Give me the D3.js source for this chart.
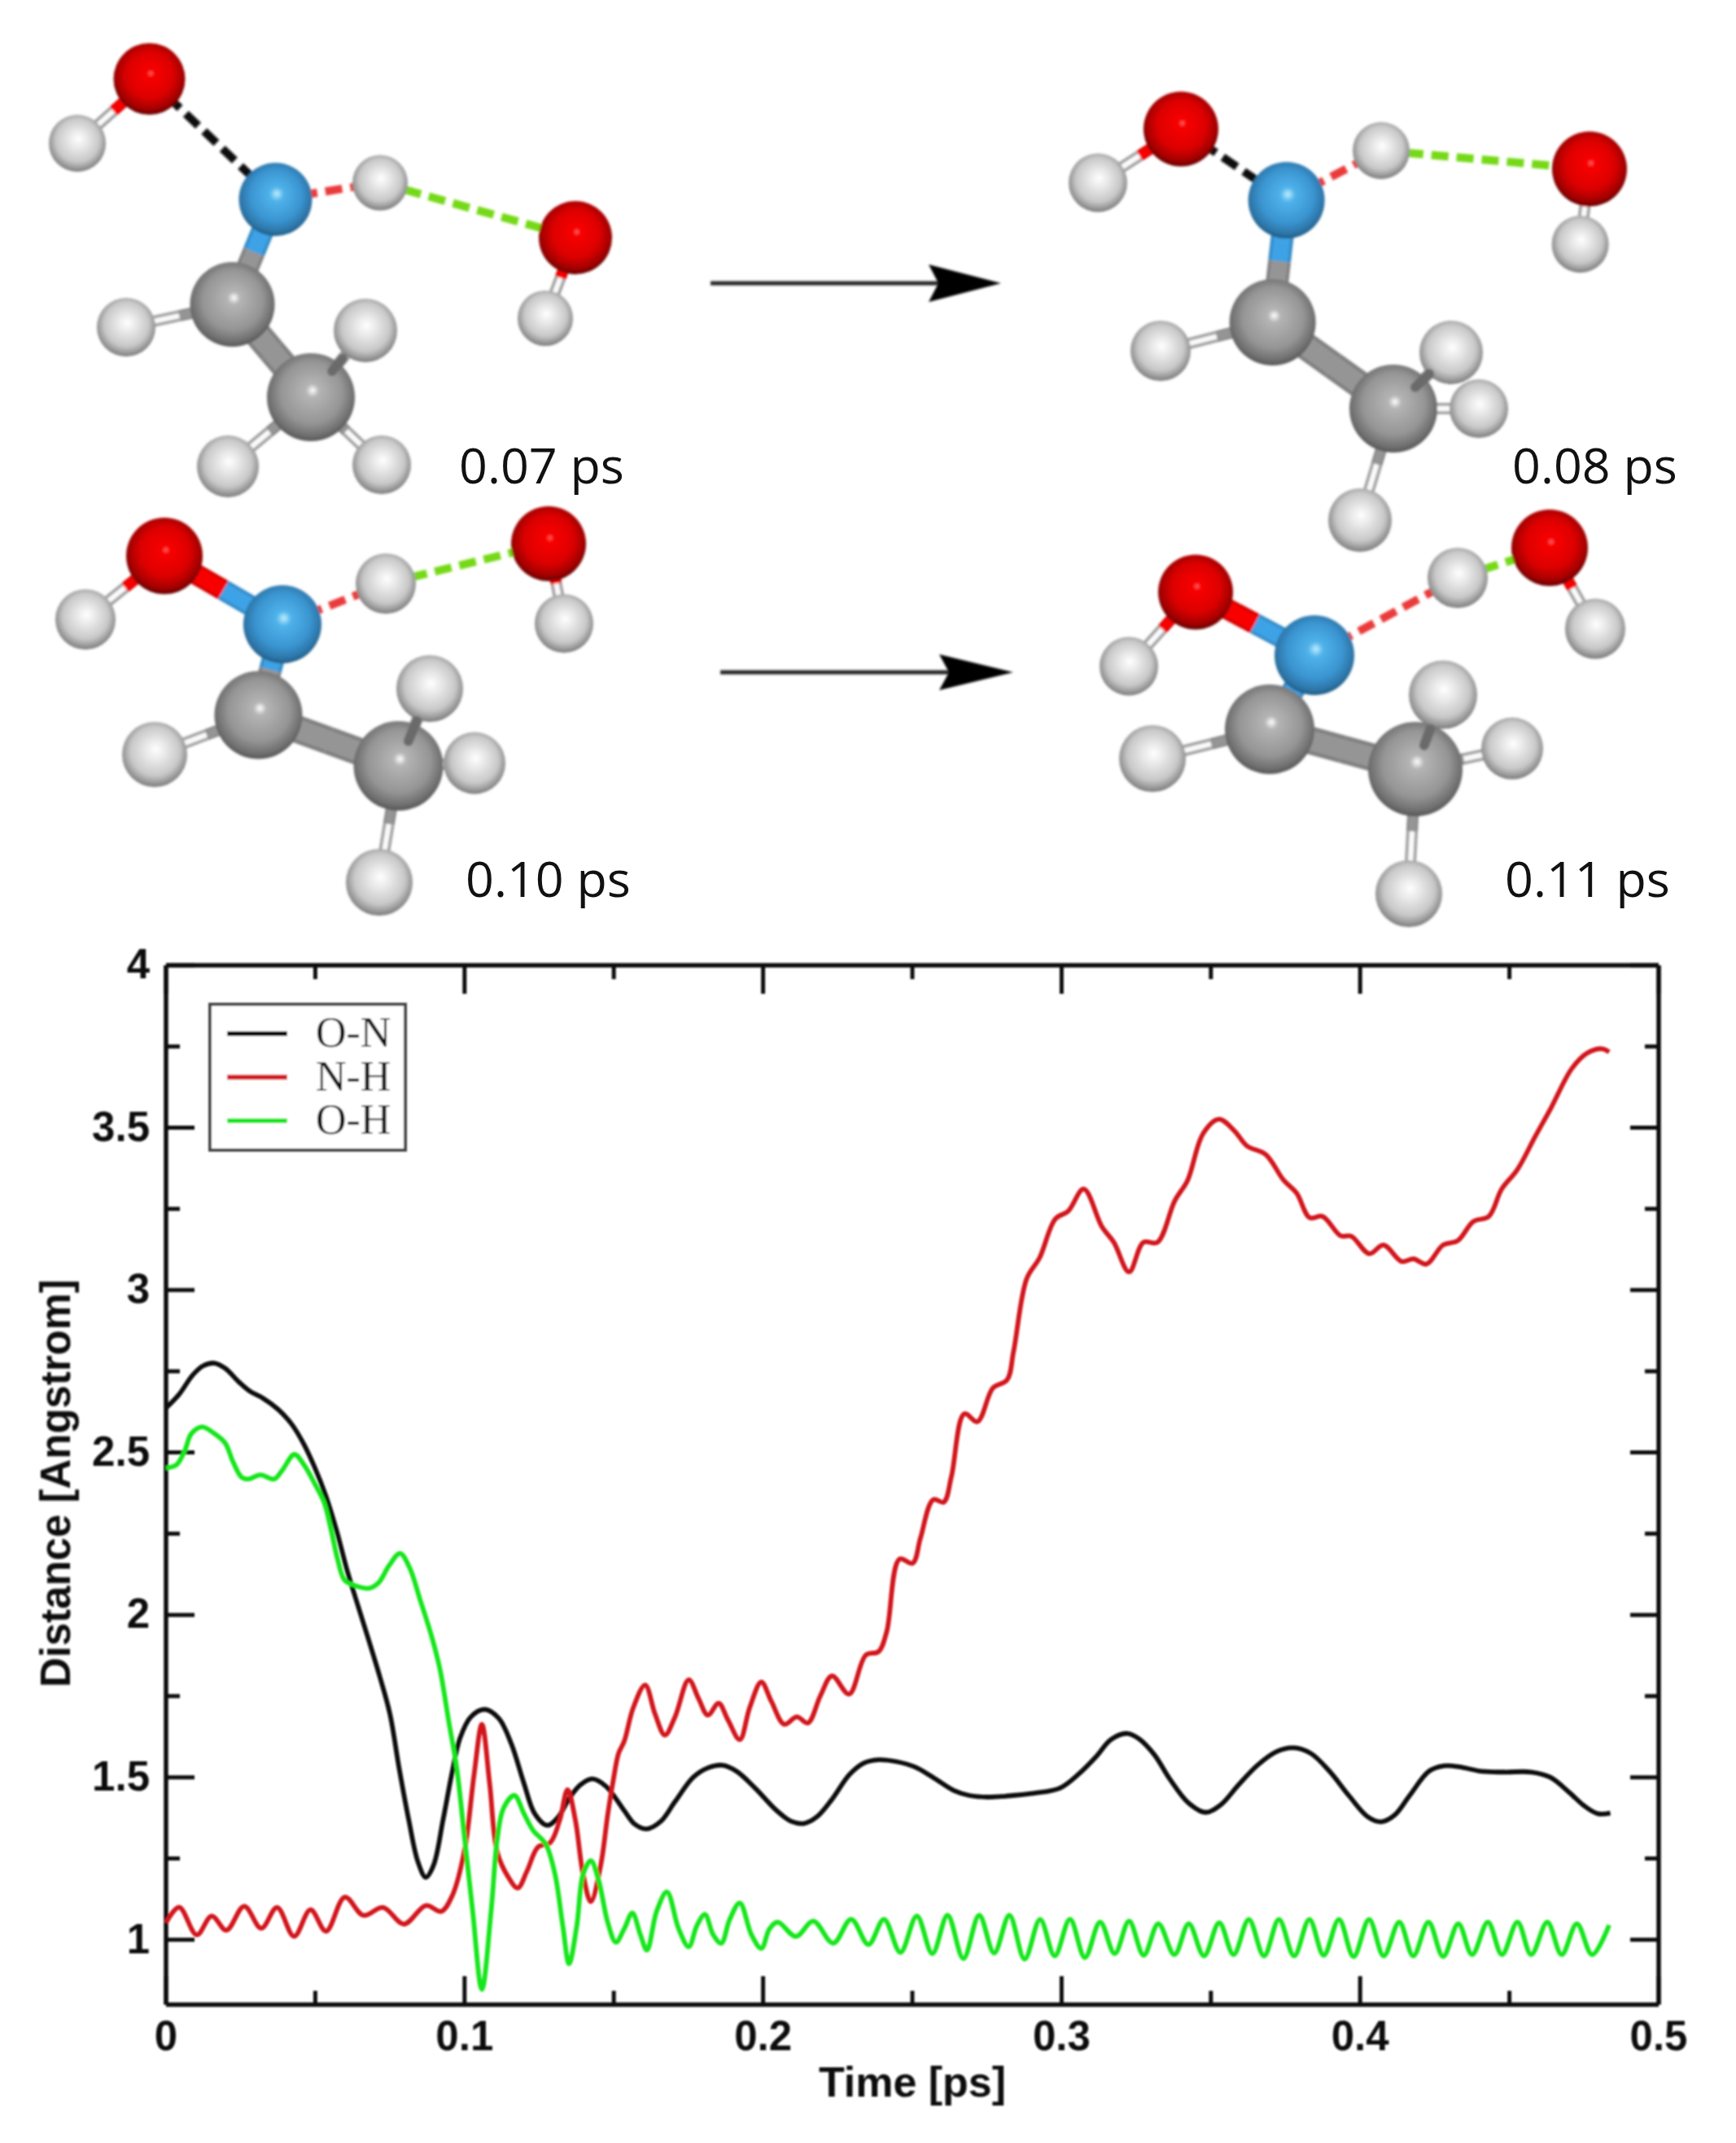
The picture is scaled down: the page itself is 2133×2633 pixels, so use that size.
<!DOCTYPE html>
<html>
<head>
<meta charset="utf-8">
<script src="https://cdnjs.cloudflare.com/ajax/libs/d3/7.8.5/d3.min.js"></script>
<style>
html,body{margin:0;padding:0;background:#fff}
svg{display:block}
</style>
</head>
<body>
<svg id="c" width="2133" height="2633" viewBox="0 0 2133 2633"></svg>
<script>
/* ---------- chart data ---------- */
const xMajor = [0, 0.1, 0.2, 0.3, 0.4, 0.5];
const xMinor = [0.05, 0.15, 0.25, 0.35, 0.45];
const yMajor = [1, 1.5, 2, 2.5, 3, 3.5, 4];
const yMinor = [1.25, 1.75, 2.25, 2.75, 3.25, 3.75];
const legendLabels = ["O-N", "N-H", "O-H"];
const xTitle = "Time [ps]";
const yTitle = "Distance [Angstrom]";

const timeON = [0,.0044,.0089,.0125,.0162,.0198,.0244,.028,.0325,.0375,.0421,.0462,.0498,.0534,.0571,.0607,.0643,.068,.0716,.075,.0781,.0813,.0844,.087,.0896,.0928,.0959,.0985,.1021,.1068,.1115,.1157,.1199,.1235,.1277,.1314,.135,.1387,.1428,.1474,.1535,.1571,.161,.1657,.1705,.1766,.1815,.1864,.1912,.1973,.2046,.2095,.2138,.218,.2229,.229,.2338,.2387,.2448,.2508,.2569,.2642,.2691,.2752,.2813,.291,.2995,.3056,.3117,.3165,.322,.326,.3311,.3362,.3426,.3483,.3534,.3592,.3656,.372,.3776,.3834,.3898,.3962,.4026,.4071,.4115,.4166,.423,.4281,.4332,.4409,.4484,.4573,.4637,.4701,.4752,.4796,.4838];
const distON = [2.637,2.679,2.738,2.767,2.775,2.759,2.717,2.689,2.667,2.633,2.587,2.525,2.454,2.37,2.261,2.136,2.028,1.919,1.81,1.695,1.527,1.369,1.239,1.192,1.229,1.369,1.518,1.621,1.686,1.709,1.681,1.602,1.481,1.388,1.352,1.378,1.434,1.476,1.495,1.472,1.397,1.355,1.341,1.364,1.425,1.5,1.529,1.537,1.518,1.467,1.397,1.364,1.358,1.378,1.43,1.509,1.544,1.554,1.548,1.532,1.5,1.458,1.444,1.439,1.442,1.451,1.467,1.509,1.565,1.616,1.635,1.618,1.569,1.495,1.42,1.392,1.416,1.476,1.537,1.579,1.591,1.574,1.518,1.444,1.378,1.363,1.383,1.444,1.518,1.535,1.532,1.518,1.516,1.516,1.5,1.453,1.411,1.388,1.39];

const timeNH = [0,.0044,.0103,.0153,.0202,.0262,.0319,.0372,.0429,.0484,.0536,.0599,.0661,.0727,.0797,.087,.0922,.0959,.1,.1032,.1058,.1084,.111,.1147,.1178,.1209,.1246,.1287,.1319,.1345,.1371,.1397,.1423,.1456,.148,.1498,.1516,.1535,.1565,.1605,.1638,.1671,.1705,.1751,.1784,.1815,.1851,.1882,.1922,.1955,.1994,.2028,.2071,.2113,.215,.2192,.2231,.2288,.2344,.2387,.2414,.2457,.2501,.2527,.257,.2605,.2631,.2674,.2718,.277,.2817,.2839,.2883,.2926,.2979,.3022,.3074,.3135,.3175,.3226,.3274,.3321,.3379,.3422,.3474,.3527,.3579,.3622,.3683,.3744,.3787,.3831,.3874,.3935,.397,.4031,.4078,.4139,.4179,.4222,.4278,.4327,.4379,.4431,.4474,.4526,.4587,.464,.4709,.4761,.481,.4834];
const distNH = [1.052,1.10,1.015,1.073,1.029,1.103,1.035,1.099,1.01,1.092,1.026,1.131,1.075,1.099,1.048,1.105,1.087,1.136,1.276,1.509,1.663,1.481,1.267,1.192,1.159,1.211,1.285,1.299,1.369,1.462,1.369,1.201,1.117,1.229,1.388,1.49,1.574,1.611,1.714,1.784,1.695,1.63,1.686,1.80,1.742,1.691,1.728,1.677,1.616,1.714,1.793,1.733,1.663,1.686,1.667,1.751,1.812,1.756,1.876,1.887,1.948,2.172,2.159,2.236,2.355,2.347,2.427,2.619,2.595,2.699,2.723,2.811,3.035,3.099,3.219,3.243,3.311,3.195,3.147,3.056,3.147,3.147,3.275,3.338,3.482,3.526,3.49,3.443,3.418,3.338,3.299,3.223,3.227,3.167,3.166,3.112,3.139,3.088,3.096,3.08,3.139,3.152,3.211,3.227,3.311,3.37,3.474,3.562,3.682,3.73,3.743,3.733];

const timeOH = [0,.0035,.0062,.0085,.0121,.0162,.0198,.0225,.0253,.0275,.0316,.0362,.0389,.043,.0462,.0498,.053,.0553,.0575,.0598,.0634,.068,.0712,.0748,.0784,.0816,.0852,.0889,.0917,.0948,.0974,.1,.1027,.1058,.1089,.111,.1131,.1167,.1199,.123,.1272,.1303,.1329,.135,.1376,.1397,.1423,.1449,.148,.1507,.1535,.1562,.1589,.1611,.1644,.1678,.1717,.1751,.1778,.1805,.1833,.186,.1888,.1922,.1961,.1994,.2022,.2049,.211,.2168,.2235,.2295,.2353,.2405,.246,.2515,.2567,.2618,.2671,.2724,.2774,.2825,.2876,.2928,.2977,.3028,.3078,.3129,.3178,.3226,.3275,.3324,.3378,.3426,.3477,.3528,.3576,.3627,.3678,.3728,.3779,.383,.3878,.3929,.3978,.403,.4079,.4131,.4178,.4229,.4278,.4329,.4375,.4428,.4475,.4527,.4573,.4627,.4675,.4726,.4777,.4834];
const distOH = [2.452,2.462,2.504,2.558,2.579,2.558,2.529,2.47,2.424,2.418,2.431,2.418,2.445,2.494,2.462,2.404,2.345,2.261,2.17,2.107,2.09,2.082,2.099,2.153,2.189,2.145,2.044,1.936,1.835,1.667,1.527,1.313,1.089,.847,1.089,1.313,1.406,1.444,1.388,1.336,1.294,1.201,1.043,.926,1.043,1.201,1.243,1.183,1.052,.992,1.034,1.082,1.015,.968,1.089,1.147,1.034,.978,1.043,1.078,1.015,.989,1.062,1.113,1.015,.973,1.034,1.054,1.01,1.057,.989,1.063,.985,1.063,.961,1.073,.957,1.075,.942,1.075,.959,1.075,.94,1.062,.95,1.063,.945,1.054,.957,1.057,.952,1.049,.954,1.049,.95,1.052,.954,1.062,.95,1.062,.95,1.062,.952,1.062,.948,1.062,.95,1.054,.95,1.054,.948,1.049,.954,1.054,.954,1.054,.954,1.054,.954,1.049,.954,1.045];

/* ---------- molecule snapshots (schematic, in picture units) ---------- */
/* atom slots: 0 O, 1 H, 2 N, 3 H(bridge), 4 O, 5 H, 6 C, 7 H, 8 C, 9 H, 10 H, 11 H */
const elements = ["O","H","N","H","O","H","C","H","C","H","H","H"];
const frames = [
  {label:"0.07 ps", lx:564, ly:594, solidON:false, stub:[.39,.58],
   a:[[183.5,97,44],[95,176,35],[338.5,245,45],[467,224.5,34],[707,292,45],[670,391,34],[285.5,374,52],[155,402,36],[382,488,54],[449,406,39],[469,571,36],[280,573,38]]},
  {label:"0.08 ps", lx:1858, ly:594, solidON:false, stub:[.38,.62],
   a:[[1451,158.5,46],[1349,224.5,36],[1580.6,246,47],[1697,185,35],[1953,207.6,46],[1941.6,300,35],[1563.6,396,53],[1426,431,37],[1712,502,54],[1783,433,39],[1817,502,36],[1671,639,39]]},
  {label:"0.10 ps", lx:572, ly:1102, solidON:true, stub:[.32,.58],
   a:[[202,683,47],[105,761,37],[347,767,48],[474,717,37],[674,668,46],[693,766,36],[317.5,878.6,54],[190,927,40],[489.5,941,55],[528,846,41],[583,937.5,38],[466,1084,41]]},
  {label:"0.11 ps", lx:1849, ly:1102, solidON:true, stub:[.32,.54],
   a:[[1469,727.5,46],[1387,818.6,36],[1615,805,49],[1791,710,37],[1904,673,47],[1960,772.5,37],[1560,896,55],[1416,932,41],[1739,945,58],[1773,853.6,42],[1858,919.6,38],[1731,1098,41]]}
];
const solidBonds = [[0,1,14],[4,5,14],[2,6,28],[6,8,34],[6,7,14],[8,9,14],[8,10,14],[8,11,14]];
const bondColor = {O:"#ee0000",N:"#3a9bdc",C:"#8f8f8f",H:"#dcdcdc"};
const arrows = [{x0:873,x1:1230,y:348,base:1141,notch:1153,h:23},{x0:885,x1:1245,y:826,base:1154,notch:1166,h:22}];

/* ---------- set-up ---------- */
const svg = d3.select("#c");
svg.append("rect").attr("width",2133).attr("height",2633).attr("fill","#fff");
const defs = svg.append("defs");

function blur(id,s){
  defs.append("filter").attr("id",id).attr("filterUnits","userSpaceOnUse")
    .attr("x",0).attr("y",0).attr("width",2133).attr("height",2633)
    .append("feGaussianBlur").attr("stdDeviation",s);
}
blur("softA",1.4); blur("softB",1.0);

const gradients = {
  O:[["0","#ff6a6a"],[".1","#f80000"],[".6","#dc0000"],[".88","#a00000"],["1","#600000"]],
  N:[["0","#bdeeff"],[".18","#4fb2ea"],[".65","#3a94d0"],[".9","#2c74a6"],["1","#1e587f"]],
  C:[["0","#ffffff"],[".14","#b4b4b4"],[".65","#959595"],[".9","#6e6e6e"],["1","#545454"]],
  H:[["0","#ffffff"],[".32","#e6e6e6"],[".7","#c8c8c8"],[".92","#929292"],["1","#727272"]]
};
Object.entries(gradients).forEach(([k,st])=>{
  const g = defs.append("radialGradient").attr("id","g"+k)
    .attr("cx",.5).attr("cy",.46).attr("r",.54).attr("fx",.52).attr("fy",.42);
  st.forEach(s=>g.append("stop").attr("offset",s[0]).attr("stop-color",s[1]));
});

/* ---------- molecules ---------- */
const mol = svg.append("g").attr("filter","url(#softA)");
const drawOrder = [1,5,7,10,11,0,2,3,4,6,8,9];
const lerp = (p,q,f)=>[p[0]+(q[0]-p[0])*f,p[1]+(q[1]-p[1])*f];

function seg(g,p,q,c,w,cap){
  g.append("line").attr("x1",p[0]).attr("y1",p[1]).attr("x2",q[0]).attr("y2",q[1])
   .attr("stroke",c).attr("stroke-width",w).attr("stroke-linecap",cap||"butt");
}
function halfBond(g,i,j,w,f){
  const p=f.a[i],q=f.a[j],m=lerp(p,q,.5);
  const parts=[[p,m,elements[i]],[m,q,elements[j]]];
  parts.forEach(([s,e,el])=>{
    seg(g,s,e,d3.color(bondColor[el]).darker(el==="H"?.9:.3).formatHex(),w);
  });
  parts.forEach(([s,e,el])=>{
    const inner = el==="H" ? "#fbfbfb" : d3.color(bondColor[el]).brighter(.12).formatHex();
    seg(g,s,e,inner,el==="H"?w*.45:w*.72);
  });
}
function dashBond(g,i,j,f,color){
  const p=f.a[i],q=f.a[j];
  g.append("line").attr("x1",p[0]).attr("y1",p[1]).attr("x2",q[0]).attr("y2",q[1])
   .attr("stroke",color).attr("stroke-width",10).attr("stroke-dasharray","21 10");
}

frames.forEach(f=>{
  const g = mol.append("g");
  solidBonds.forEach(b=>halfBond(g,b[0],b[1],b[2],f));
  if(f.solidON) halfBond(g,0,2,26,f); else dashBond(g,0,2,f,"#0d0d0d");
  dashBond(g,2,3,f,"#ea3b3b");
  dashBond(g,3,4,f,"#74d915");
  drawOrder.forEach(i=>{
    const [x,y,r]=f.a[i];
    g.append("circle").attr("cx",x).attr("cy",y).attr("r",r).attr("fill","url(#g"+elements[i]+")");
  });
  const s0=lerp(f.a[8],f.a[9],f.stub[0]), s1=lerp(f.a[8],f.a[9],f.stub[1]);
  seg(g,s0,s1,"#6a6a6a",12,"round");
  svg.append("text").attr("x",f.lx).attr("y",f.ly).text(f.label)
    .attr("font-family","'Open Sans',sans-serif").attr("font-size",61).attr("fill","#111");
});

arrows.forEach(a=>{
  const g = mol.append("g");
  seg(g,[a.x0,a.y],[a.notch+4,a.y],"#222",5);
  g.append("path").attr("fill","#000")
   .attr("d",d3.line()([[a.x1,a.y],[a.base,a.y-a.h],[a.notch,a.y],[a.base,a.y+a.h]])+"Z");
});

/* ---------- chart ---------- */
const x = d3.scaleLinear().domain([0,0.5]).range([204,2038]);
const y = d3.scaleLinear().domain([0.8,4]).range([2463,1186]);
const chart = svg.append("g").attr("filter","url(#softB)");

const FONT = "'Liberation Sans',Arial,sans-serif";
const LONG = 35, SHORT = 17;

function drawAxis(maker, scale, pos, majors, minors, labels){
  const g = chart.append("g").attr("transform",pos);
  const maj = maker(scale).tickValues(majors).tickSizeInner(-LONG).tickSizeOuter(0).tickPadding(labels?20:0).offset(0)
      .tickFormat(labels?d3.format("~g"):"");
  g.call(maj);
  const gm = chart.append("g").attr("transform",pos);
  gm.call(maker(scale).tickValues(minors).tickSizeInner(-SHORT).tickSizeOuter(0).tickFormat("").offset(0));
  gm.select(".domain").remove();
  [g,gm].forEach(k=>{
    k.selectAll("line").attr("stroke","#111").attr("stroke-width",5);
    k.selectAll(".domain").attr("stroke","#111").attr("stroke-width",5.5);
    k.selectAll("text").attr("font-family",FONT).attr("font-weight",700).attr("font-size",51).attr("fill","#111");
  });
}
drawAxis(d3.axisBottom,x,"translate(0,2463)",xMajor,xMinor,true);
drawAxis(d3.axisTop,x,"translate(0,1186)",xMajor,xMinor,false);
drawAxis(d3.axisLeft,y,"translate(204,0)",yMajor,yMinor,true);
drawAxis(d3.axisRight,y,"translate(2038,0)",yMajor,yMinor,false);

chart.append("text").attr("x",(x(0)+x(.5))/2).attr("y",2576).attr("text-anchor","middle").text(xTitle)
  .attr("font-family",FONT).attr("font-weight",700).attr("font-size",52).attr("fill","#111");
chart.append("text").attr("transform","translate(86,"+((y(.8)+y(4))/2-2)+") rotate(-90)").attr("text-anchor","middle").text(yTitle)
  .attr("font-family",FONT).attr("font-weight",700).attr("font-size",51).attr("fill","#111");

const line = d3.line().x(d=>x(d[0])).y(d=>y(d[1])).curve(d3.curveCatmullRom.alpha(.5));
const seriesColors = ["#101010","#d2141e","#14e61a"];
[[timeON,distON],[timeNH,distNH],[timeOH,distOH]].forEach(([t,v],i)=>{
  chart.append("path").attr("d",line(d3.zip(t,v))).attr("fill","none")
    .attr("stroke",seriesColors[i]).attr("stroke-width",5.8).attr("stroke-linejoin","round");
});

/* legend */
const lg = chart.append("g");
lg.append("rect").attr("x",258).attr("y",1234).attr("width",240).attr("height",179)
  .attr("fill","#fff").attr("stroke","#444").attr("stroke-width",4);
const legendY = d3.scalePoint().domain(legendLabels).range([1270,1377]);
legendLabels.forEach((l,i)=>{
  lg.append("line").attr("x1",279).attr("x2",353).attr("y1",legendY(l)).attr("y2",legendY(l))
    .attr("stroke",seriesColors[i]).attr("stroke-width",5.8);
  lg.append("text").attr("x",388).attr("y",legendY(l)+16).text(l)
    .attr("font-family","'Liberation Serif',serif").attr("font-size",52).attr("fill","#111");
});
</script>
</body>
</html>
